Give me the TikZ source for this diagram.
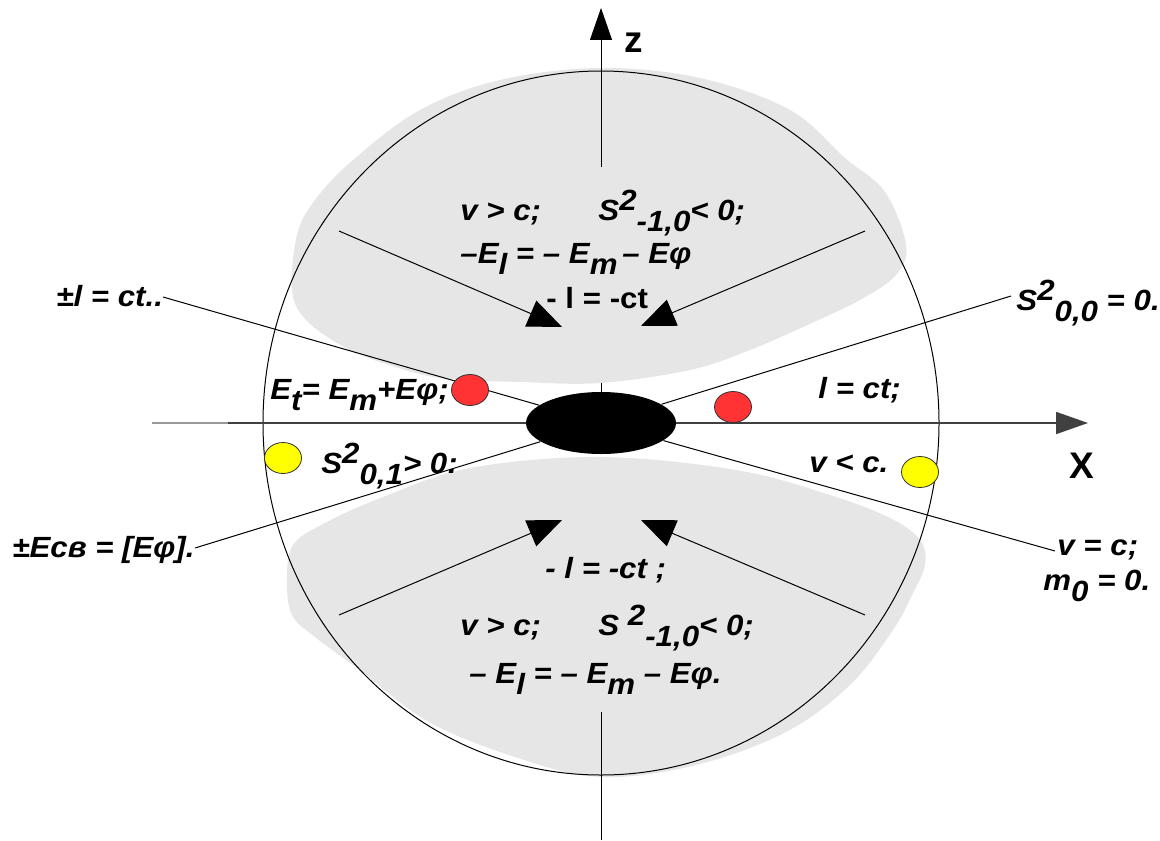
\documentclass[tikz,border=0pt]{standalone}
\usepackage{fontspec}
\setmainfont{Liberation Sans}
\newfontfamily\lblfont{Liberation Sans}[FakeStretch=1.07]
\usetikzlibrary{arrows.meta,shapes.geometric}
\definecolor{blobgray}{HTML}{E6E6E6}
\definecolor{reddot}{HTML}{FF3333}
\definecolor{yeldot}{HTML}{FFFF00}
\newcommand{\sbx}[1]{\raisebox{-5.5pt}{#1}}
\newcommand{\spx}[1]{\raisebox{5pt}{#1}}
\begin{document}
\begin{tikzpicture}[x=0.5pt,y=-0.5pt,
  lbl/.style={anchor=base west,inner sep=0pt,font=\lblfont\fontsize{14.6}{17}\selectfont\bfseries\itshape},
  lblup/.style={anchor=base west,inner sep=0pt,font=\lblfont\fontsize{14.6}{17}\selectfont\bfseries},
  axlbl/.style={anchor=base west,inner sep=0pt,font=\fontsize{18.5}{22}\selectfont\bfseries},
  thinline/.style={line width=0.5pt,black},
  bigarrow/.style={line width=0.5pt,-{Triangle[length=17pt,width=14pt]}},
  axarrow/.style={line width=0.5pt,-{Triangle[length=16pt,width=11pt]}},
  dot/.style={ellipse,draw=black!80,line width=0.4pt,minimum width=18.5pt,minimum height=15.5pt,inner sep=0pt}]
\useasboundingbox (0,0) rectangle (1160,840);
% gray regions
\fill[blobgray] plot[smooth cycle,tension=0.6] coordinates {
 (600,68) (700,78) (790,110) (845,158) (885,192) (906,245) (896,275) (860,300)
 (814,322) (750,350) (690,370) (600,383) (520,382) (440,378) (383,363) (344,347)
 (306,320) (292,290) (297,235) (315,200) (353,160) (420,110) (500,80)};
\fill[blobgray] plot[smooth cycle,tension=0.6] coordinates {
 (600,457) (736,470) (830,495) (890,518) (920,540) (925,565) (912,595) (893,630)
 (850,685) (786,732) (696,765) (601,777) (518,758) (429,722) (357,668) (315,637)
 (292,615) (287,580) (293,545) (325,523) (383,497) (470,468)};
% big circle
\draw[thinline] (601,423) ellipse [x radius=338,y radius=352];
% axes
\coordinate (xstart) at (152,423);
\coordinate (xtip) at (1088,423);
\draw[line width=0.9pt,black!40] (xstart) -- (228,423);
\draw[axarrow,line width=0.9pt,black!75] (228,423) -- (xtip);
\coordinate (zbase) at (601,167);
\coordinate (ztip) at (601,8);
\draw[axarrow] (zbase) -- (ztip);
\coordinate (ztick1) at (601,383);
\coordinate (ztick2) at (601,393);
\draw[thinline] (ztick1) -- (ztick2);
\coordinate (zlow1) at (601,712);
\coordinate (zlow2) at (601,840);
\draw[thinline] (zlow1) -- (zlow2);
% core
\node[ellipse,fill=black,minimum width=75pt,minimum height=31pt,inner sep=0pt] (core) at (601,423) {};
% rays
\coordinate (pmEnd) at (163,297);
\coordinate (ecvEnd) at (195,548);
\coordinate (s00End) at (1011,296);
\coordinate (vcEnd) at (1055,551);
\draw[thinline] (pmEnd) -- (core);
\draw[thinline] (ecvEnd) -- (core);
\draw[thinline] (s00End) -- (core);
\draw[thinline] (vcEnd) -- (core);
% big arrows
\coordinate (a1s) at (339,231); \coordinate (a1t) at (562,327);
\coordinate (a2s) at (865,231); \coordinate (a2t) at (641,326);
\coordinate (a3s) at (339,615); \coordinate (a3t) at (562,520);
\coordinate (a4s) at (865,615); \coordinate (a4t) at (641,520);
\draw[bigarrow] (a1s) -- (a1t);
\draw[bigarrow] (a2s) -- (a2t);
\draw[bigarrow] (a3s) -- (a3t);
\draw[bigarrow] (a4s) -- (a4t);
% dots
\node[dot,fill=reddot] (r1) at (470,390) {};
\node[dot,fill=reddot] (r2) at (733,407) {};
\node[dot,fill=yeldot] (y1) at (283,458) {};
\node[dot,fill=yeldot] (y2) at (920,472) {};
% labels
\node[axlbl] (zl) at (624,53) {z};
\node[axlbl] (xl) at (1069,478) {X};
\node[lbl] (pm) at (56,306) {±l = ct..};
\node[lbl] (ecv) at (12,557) {±Eсв = [Eφ].};
\node[lbl] (et) at (270,399) {E\sbx{t}= E\sbx{m}+Eφ;};
\node[lbl] (s01) at (321,473) {S\spx{2}\sbx{0,1}> 0:};
\node[lbl] (lct) at (818,398) {l = ct;};
\node[lbl] (vlc) at (809,472) {v < c.};
\node[lbl] (s00) at (1016,310) {S\spx{2}\sbx{0,0} = 0.};
\node[lbl] (vc) at (1057,555) {v = c;};
\node[lbl] (m0) at (1043,590) {m\sbx{0} = 0.};
\node[lbl] (t1a) at (460,220) {v > c;};
\node[lbl] (t1b) at (598,220) {S\spx{2}\sbx{-1,0}< 0;};
\node[lbl] (t2) at (460,263) {–E\sbx{l} = – E\sbx{m}\,– Eφ};
\node[lblup] (t3) at (546,308) {- l = -ct};
\node[lbl] (b1) at (545,578) {- l = -ct ;};
\node[lbl] (b2a) at (460,635) {v > c;};
\node[lbl] (b2b) at (598,635) {S \spx{2}\sbx{-1,0}< 0;};
\node[lbl] (b3) at (469,683) {– E\sbx{l} = – E\sbx{m} – Eφ.};
\end{tikzpicture}
\end{document}
